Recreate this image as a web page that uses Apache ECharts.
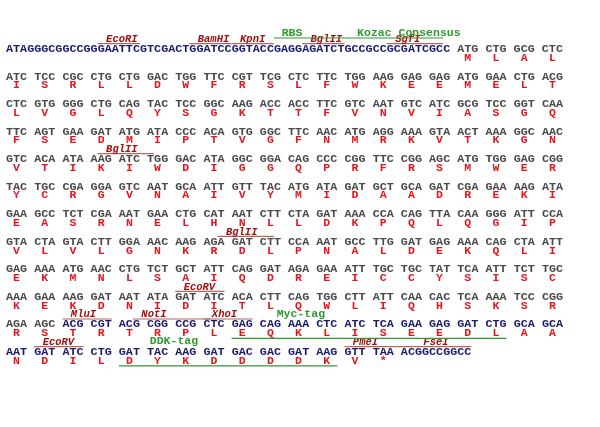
<!DOCTYPE html>
<html>
<head>
<meta charset="utf-8">
<script src="https://cdn.jsdelivr.net/npm/echarts@6/dist/echarts.min.js"></script>
<style>
html, body { margin: 0; padding: 0; background: #fff; }
#chart { width: 600px; height: 427px; }
</style>
</head>
<body>
<div id="chart"></div>
<script>
// sequence rows, one string per printed line (codons separated by spaces)
var seqRows = [
  'ATAGGGCGGCCGGGAATTCGTCGACTGGATCCGGTACCGAGGAGATCTGCCGCCGCGATCGCC ATG CTG GCG CTC',
  'ATC TCC CGC CTG CTG GAC TGG TTC CGT TCG CTC TTC TGG AAG GAG GAG ATG GAA CTG ACG',
  'CTC GTG GGG CTG CAG TAC TCC GGC AAG ACC ACC TTC GTC AAT GTC ATC GCG TCC GGT CAA',
  'TTC AGT GAA GAT ATG ATA CCC ACA GTG GGC TTC AAC ATG AGG AAA GTA ACT AAA GGC AAC',
  'GTC ACA ATA AAG ATC TGG GAC ATA GGC GGA CAG CCC CGG TTC CGG AGC ATG TGG GAG CGG',
  'TAC TGC CGA GGA GTC AAT GCA ATT GTT TAC ATG ATA GAT GCT GCA GAT CGA GAA AAG ATA',
  'GAA GCC TCT CGA AAT GAA CTG CAT AAT CTT CTA GAT AAA CCA CAG TTA CAA GGG ATT CCA',
  'GTA CTA GTA CTT GGA AAC AAG AGA GAT CTT CCA AAT GCC TTG GAT GAG AAA CAG CTA ATT',
  'GAG AAA ATG AAC CTG TCT GCT ATT CAG GAT AGA GAA ATT TGC TGC TAT TCA ATT TCT TGC',
  'AAA GAA AAG GAT AAT ATA GAT ATC ACA CTT CAG TGG CTT ATT CAA CAC TCA AAA TCC CGG',
  'AGA AGC ACG CGT ACG CGG CCG CTC GAG CAG AAA CTC ATC TCA GAA GAG GAT CTG GCA GCA',
  'AAT GAT ATC CTG GAT TAC AAG GAT GAC GAC GAT AAG GTT TAA ACGGCCGGCC'
];

// amino acids, one letter per codon slot (space = none)
var aaRows = [
  '                MLAL',
  'ISRLLDWFRSLFWKEEMELT',
  'LVGLQYSGKTTFVNVIASGQ',
  'FSEDMIPTVGFNMRKVTKGN',
  'VTIKIWDIGGQPRFRSMWER',
  'YCRGVNAIVYMIDAADREKI',
  'EASRNELHNLLDKPQLQGIP',
  'VLVLGNKRDLPNALDEKQLI',
  'EKMNLSAIQDREICCYSISC',
  'KEKDNIDITLQWLIQHSKSR',
  'RSTRTRPLEQKLISEEDLAA',
  'NDILDYKDDDDKV*'
];

// vector (non-insert) stretches: row, first char, end char
var vecRow = [0, 10, 11];
var vecFrom = [0, 8, 0];
var vecTo = [63, 80, 66];

// restriction sites
var siteNames = ['EcoRI', 'BamHI', 'KpnI', 'BglII', 'SgfI', 'BglII', 'BglII', 'EcoRV',
                 'MluI', 'NotI', 'XhoI', 'EcoRV', 'PmeI', 'FseI'];
var siteRows = [0, 0, 0, 0, 0, 4, 7, 9, 10, 10, 10, 11, 11, 11];
var siteFrom = [13, 26, 32, 42, 54, 13, 30, 24, 8, 18, 28, 4, 48, 58];
var siteTo = [19, 32, 38, 48, 62, 21, 38, 31, 15, 29, 35, 11, 58, 66];

// tags
var tagNames = ['RBS', 'Kozac Consensus', 'Myc-tag', 'DDK-tag'];
var tagRows = [0, 0, 10, 11];
var tagFrom = [38, 48, 32, 16];
var tagTo = [48, 62, 71, 47];
var tagLabelAt = [39.1, 49.8, 38.4, 20.4];
var tagOver = [true, true, false, false];

var GREY = '#4a4a4a', NAVY = '#1b1b6e', RED = '#e3161e';
var SITE = '#a30f0f', SITE_LINE = '#b8655c', GREEN = '#2f9a2f';
var MONO = '"Liberation Mono", "DejaVu Sans Mono", monospace';

function isVec(r, c) {
  for (var i = 0; i < vecRow.length; i++) {
    if (vecRow[i] === r && c >= vecFrom[i] && c < vecTo[i]) return true;
  }
  return false;
}

// split each row into colour runs
var segs = [];
seqRows.forEach(function (s, r) {
  var start = 0;
  for (var c = 1; c <= s.length; c++) {
    if (c === s.length || isVec(r, c) !== isVec(r, start)) {
      segs.push({ x: start, y: r, text: s.slice(start, c), color: isVec(r, start) ? NAVY : GREY });
      start = c;
    }
  }
});

var aas = [];
aaRows.forEach(function (s, r) {
  for (var k = 0; k < s.length; k++) {
    if (s[k] !== ' ') aas.push({ x: 4 * k + 1.5, y: r + 0.32, text: s[k] });
  }
});

var sites = siteNames.map(function (n, i) {
  return { name: n, row: siteRows[i], from: siteFrom[i], to: siteTo[i] };
});
var tags = tagNames.map(function (n, i) {
  return { name: n, row: tagRows[i], from: tagFrom[i], to: tagTo[i], at: tagLabelAt[i], over: tagOver[i] };
});

var chart = echarts.init(document.getElementById('chart'));

var option = {
  animation: false,
  backgroundColor: '#fff',
  grid: { left: 6, width: 564, top: 0, height: 427 },
  xAxis: { type: 'value', min: 0, max: 80, show: false },
  yAxis: { type: 'value', inverse: true, min: -1.78, max: 13.72, show: false },
  series: [
    {
      // codon text
      type: 'custom',
      silent: true,
      renderItem: function (params, api) {
        var it = segs[params.dataIndex];
        var p = api.coord([it.x, it.y]);
        return {
          type: 'text', x: p[0], y: p[1],
          style: { text: it.text, fill: it.color, font: 'bold 11.75px ' + MONO, align: 'left', verticalAlign: 'middle' }
        };
      },
      data: segs.map(function (it) { return [it.x, it.y]; })
    },
    {
      // amino acids
      type: 'custom',
      silent: true,
      renderItem: function (params, api) {
        var it = aas[params.dataIndex];
        var p = api.coord([it.x, it.y]);
        return {
          type: 'text', x: p[0], y: p[1],
          style: { text: it.text, fill: RED, font: 'bold 11.5px ' + MONO, align: 'center', verticalAlign: 'middle' }
        };
      },
      data: aas.map(function (it) { return [it.x, it.y]; })
    },
    {
      // restriction sites
      type: 'custom',
      silent: true,
      renderItem: function (params, api) {
        var s = sites[params.dataIndex];
        var a = api.coord([s.from, s.row - 0.2]);
        var b = api.coord([s.to, s.row - 0.2]);
        var l = api.coord([s.from + 1.2, s.row - 0.2]);
        return {
          type: 'group',
          children: [
            { type: 'line', shape: { x1: a[0], y1: a[1], x2: b[0], y2: b[1] }, style: { stroke: SITE_LINE, lineWidth: 1.2 } },
            { type: 'text', x: l[0], y: l[1] + 1, style: { text: s.name, fill: SITE, font: 'italic bold 10.5px ' + MONO, align: 'left', verticalAlign: 'bottom' } }
          ]
        };
      },
      data: sites.map(function (s) { return [s.from, s.row]; })
    },
    {
      // tags
      type: 'custom',
      silent: true,
      renderItem: function (params, api) {
        var t = tags[params.dataIndex];
        var ly = t.over ? t.row - 0.4 : t.row + 0.5;
        var a = api.coord([t.from, ly]);
        var b = api.coord([t.to, ly]);
        var l = api.coord([t.at, t.over ? t.row - 0.4 : t.row - 0.2]);
        return {
          type: 'group',
          children: [
            { type: 'line', shape: { x1: a[0], y1: a[1], x2: b[0], y2: b[1] }, style: { stroke: GREEN, lineWidth: 1.2 } },
            { type: 'text', x: l[0], y: l[1] + 1, style: { text: t.name, fill: GREEN, font: 'bold 11.5px ' + MONO, align: 'left', verticalAlign: 'bottom' } }
          ]
        };
      },
      data: tags.map(function (t) { return [t.from, t.row]; })
    }
  ]
};

chart.setOption(option);
</script>
</body>
</html>
